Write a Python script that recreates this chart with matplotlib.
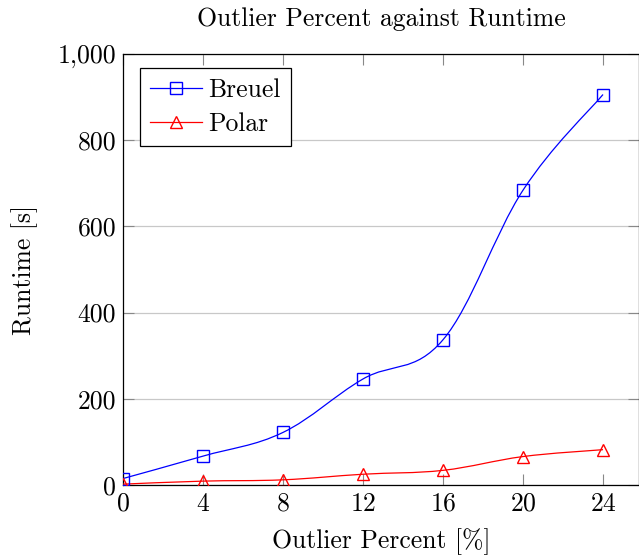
import numpy as np
import matplotlib
matplotlib.use("Agg")
import matplotlib.pyplot as plt
from matplotlib.path import Path
from matplotlib.patches import PathPatch
from matplotlib.ticker import FuncFormatter

# data
outlier_pct = [0, 4, 8, 12, 16, 20, 24]
breuel = [15, 67, 122, 246, 337, 684, 906]
polar = [2, 9, 12, 25, 34, 66, 82]
x_ticks = [0, 4, 8, 12, 16, 20, 24]
y_ticks = [0, 200, 400, 600, 800, 1000]

plt.rcParams['font.family'] = ['cmr10', 'DejaVu Serif']
plt.rcParams['axes.formatter.use_mathtext'] = True
plt.rcParams['mathtext.fontset'] = 'cm'

FS = 18.5


def smooth_path(xs, ys, tension=0.18):
    """Bezier path through the points, like pgfplots 'smooth'."""
    pts = np.column_stack([xs, ys]).astype(float)
    n = len(pts)
    verts = [pts[0]]
    codes = [Path.MOVETO]
    for i in range(n - 1):
        prev = pts[max(i - 1, 0)]
        nxt = pts[min(i + 2, n - 1)]
        c1 = pts[i] + tension * (pts[i + 1] - prev)
        c2 = pts[i + 1] - tension * (nxt - pts[i])
        verts += [c1, c2, pts[i + 1]]
        codes += [Path.CURVE4] * 3
    return Path(verts, codes)


fig = plt.figure(figsize=(6.39, 5.56), dpi=100)
ax = fig.add_axes([123 / 639, 1 - 485 / 556, 516 / 639, 431 / 556])

series = [
    ('Breuel', breuel, 'blue', 's', 9),
    ('Polar', polar, 'red', '^', 8),
]
for name, vals, col, mk, ms in series:
    ax.add_patch(PathPatch(smooth_path(outlier_pct, vals), facecolor='none',
                           edgecolor=col, lw=0.9, zorder=3))
    ax.plot(outlier_pct, vals, ls='none', marker=mk, ms=ms, mfc='none',
            mec=col, mew=1.0, zorder=4)
    # legend proxy
    ax.plot([], [], color=col, lw=0.9, marker=mk, ms=ms, mfc='none',
            mec=col, mew=1.0, label=name)

ax.set_xlim(0, 25.8)
ax.set_ylim(0, 1000)
ax.set_xticks(x_ticks)
ax.set_yticks(y_ticks)
ax.yaxis.set_major_formatter(FuncFormatter(lambda v, p: f"{v:,.0f}"))
ax.grid(axis='y', color='#c8c8c8', lw=0.9)
ax.set_axisbelow(True)

ax.tick_params(direction='in', length=8, width=0.8, color='#888888',
               labelsize=FS, top=True, right=True, pad=5)
for side in ['left', 'bottom', 'top', 'right']:
    ax.spines[side].set_color('black')
    ax.spines[side].set_linewidth(0.9)

ax.set_title('Outlier Percent against Runtime', fontsize=FS, pad=20)
ax.set_xlabel('Outlier Percent [%]', fontsize=FS, labelpad=9)
ax.set_ylabel('Runtime [s]', fontsize=FS, labelpad=14)

leg = ax.legend(loc='upper left', bbox_to_anchor=(0.033, 0.9675), fontsize=FS,
                frameon=True, fancybox=False, edgecolor='black',
                handlelength=2.0, borderpad=0.4, labelspacing=0.4,
                handletextpad=0.25, borderaxespad=0)
leg.get_frame().set_linewidth(0.9)
leg.get_frame().set_alpha(1)

fig.savefig('out.png', dpi=100)
